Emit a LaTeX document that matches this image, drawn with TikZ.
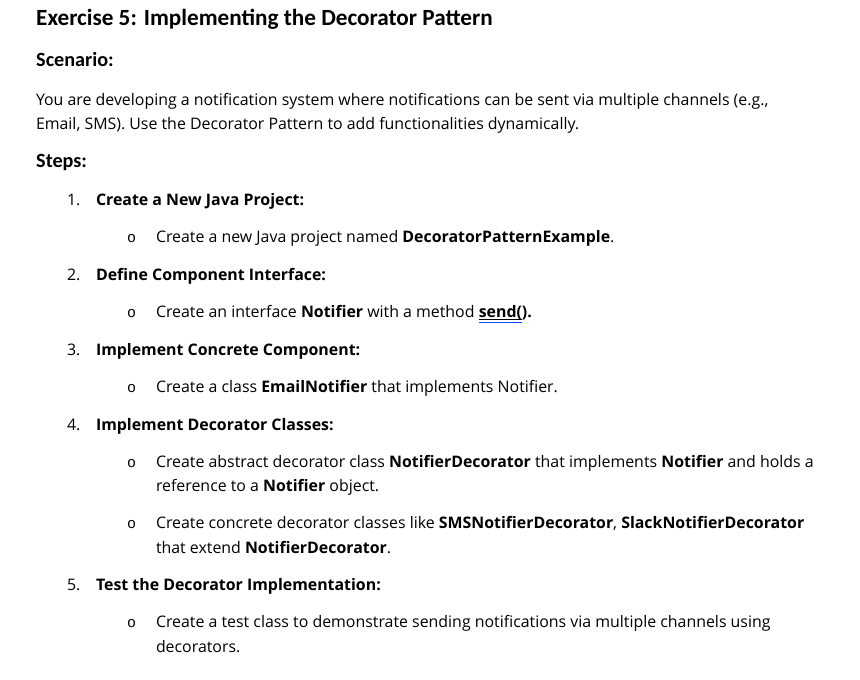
\documentclass[tikz,border=0pt]{standalone}
\usepackage{fontspec}
\setmainfont{Open Sans}
\newfontfamily\headfont{Carlito}
\newfontfamily\bulfont{Liberation Mono}
\begin{document}
\begin{tikzpicture}[x=1pt,y=-1pt,
  txt/.style={anchor=base west,inner sep=0pt,outer sep=0pt,font=\fontsize{15.9}{24}\selectfont,text=black},
  ttl/.style={anchor=base west,inner sep=0pt,font=\headfont\bfseries\fontsize{23.2}{26}\selectfont},
  sub/.style={anchor=base west,inner sep=0pt,font=\headfont\bfseries\fontsize{20.2}{22}\selectfont},
  bul/.style={anchor=base west,inner sep=0pt,font=\bulfont\fontsize{15}{20}\selectfont}]
\fill[white] (0,0) rectangle (860,680);
\useasboundingbox (0,0) rectangle (860,680);
\node[ttl] (title) at (36,25) {Exercise 5: Implementing the Decorator Pattern};
\node[sub] (scen) at (36,66) {Scenario:};
\node[txt] (p1) at (36,105) {You are developing a notification system where notifications can be sent via multiple channels (e.g.,};
\node[txt] (p2) at (36,129) {Email, SMS). Use the Decorator Pattern to add functionalities dynamically.};
\node[sub] (steps) at (36,167) {Steps:};
% 1
\node[txt] (n1) at (67,205) {1.};
\node[txt] (h1) at (96,205) {\bfseries Create a New Java Project:};
\node[bul] (b1) at (127,242) {o};
\node[txt] (t1) at (156,242) {Create a new Java project named \textbf{DecoratorPatternExample}.};
% 2
\node[txt] (n2) at (67,280) {2.};
\node[txt] (h2) at (96,280) {\bfseries Define Component Interface:};
\node[bul] (b2) at (127,317) {o};
\node[txt] (t2) at (156,317) {Create an interface \textbf{Notifier} with a method};
\node[txt] (s2) at ([xshift=4.2pt]t2.base east) {\textbf{send(}};
\node[txt] (e2) at (s2.base east) {\textbf{).}};
\draw[black,line width=1pt] ([yshift=-2.5pt]s2.base west) -- ([yshift=-2.5pt]s2.base east);
\draw[blue!70!cyan,line width=1pt] ([yshift=-5.5pt]s2.base west) -- ([yshift=-5.5pt]s2.base east);
% 3
\node[txt] (n3) at (67,355) {3.};
\node[txt] (h3) at (96,355) {\bfseries Implement Concrete Component:};
\node[bul] (b3) at (127,392) {o};
\node[txt] (t3) at (156,392) {Create a class \textbf{EmailNotifier} that implements Notifier.};
% 4
\node[txt] (n4) at (67,430) {4.};
\node[txt] (h4) at (96,430) {\bfseries Implement Decorator Classes:};
\node[bul] (b4) at (127,467) {o};
\node[txt] (t4a) at (156,467) {Create abstract decorator class \textbf{NotifierDecorator} that implements \textbf{Notifier} and holds a};
\node[txt] (t4b) at (156,491) {reference to a \textbf{Notifier} object.};
\node[bul] (b5) at (127,528) {o};
\node[txt] (t5a) at (156,528) {Create concrete decorator classes like \textbf{SMSNotifierDecorator}, \textbf{SlackNotifierDecorator}};
\node[txt] (t5b) at (156,553) {that extend \textbf{NotifierDecorator}.};
% 5
\node[txt] (n5) at (67,590) {5.};
\node[txt] (h5) at (96,590) {\bfseries Test the Decorator Implementation:};
\node[bul] (b6) at (127,627) {o};
\node[txt] (t6a) at (156,627) {Create a test class to demonstrate sending notifications via multiple channels using};
\node[txt] (t6b) at (156,652) {decorators.};
\end{tikzpicture}
\end{document}
